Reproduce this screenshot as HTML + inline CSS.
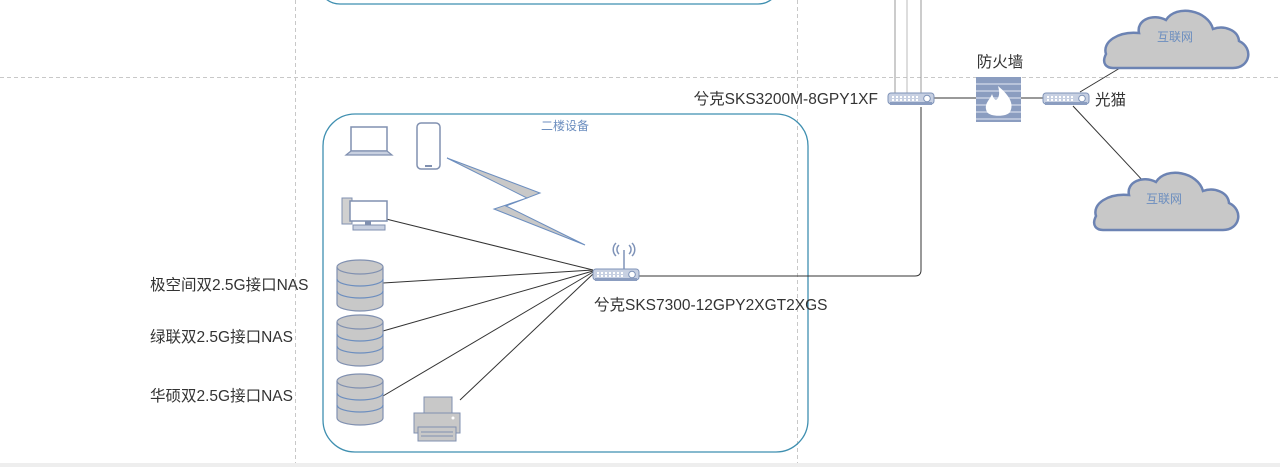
<!DOCTYPE html>
<html><head><meta charset="utf-8"><style>
html,body{margin:0;padding:0;background:#fff;}
svg{display:block;}
text{font-family:"Liberation Sans","Noto Sans CJK SC",sans-serif;}
</style></head><body>
<svg width="1280" height="467" viewBox="0 0 1280 467" xmlns="http://www.w3.org/2000/svg">
<defs>
<g id="sw">
  <rect x="0" y="0" width="46" height="11" rx="3" fill="#c7d0e2" stroke="#7f93b8" stroke-width="1"/>
  <rect x="2" y="9" width="42" height="3" fill="#8b9dc0"/>
  <g fill="#fff"><rect x="4" y="3" width="2" height="2"/><rect x="8" y="3" width="2" height="2"/><rect x="12" y="3" width="2" height="2"/><rect x="16" y="3" width="2" height="2"/><rect x="20" y="3" width="2" height="2"/><rect x="24" y="3" width="2" height="2"/><rect x="28" y="3" width="2" height="2"/>
  <rect x="4" y="6" width="2" height="2"/><rect x="8" y="6" width="2" height="2"/><rect x="12" y="6" width="2" height="2"/><rect x="16" y="6" width="2" height="2"/><rect x="20" y="6" width="2" height="2"/><rect x="24" y="6" width="2" height="2"/><rect x="28" y="6" width="2" height="2"/></g>
  <circle cx="39" cy="5.5" r="3.3" fill="#fff" stroke="#7f93b8"/>
</g>
<g id="db">
  <path d="M0 7 v37 a23 7 0 0 0 46 0 v-37" fill="#c8c8c8" stroke="#8090b0" stroke-width="1.2"/>
  <ellipse cx="23" cy="7" rx="23" ry="7" fill="#c8c8c8" stroke="#8090b0" stroke-width="1.2"/>
  <path d="M0 19 a23 7 0 0 0 46 0 M0 31 a23 7 0 0 0 46 0" fill="none" stroke="#6c8ebf" stroke-width="1.2"/>
</g>
<path id="cloud" d="M15 62 H135 C152 62 156 42 141 35 C140 24 126 19 115 23 C110 4 78 -2 68 14 C55 7 38 14 41 27 C20 25 4 36 8 48 C3 58 9 62 15 62 Z"/>
</defs>

<g stroke="#c8c8c8" stroke-dasharray="4,3" stroke-width="1">
  <line x1="0" y1="77.5" x2="1280" y2="77.5"/>
  <line x1="295.5" y1="0" x2="295.5" y2="467"/>
  <line x1="797.5" y1="0" x2="797.5" y2="467"/>
</g>
<rect x="0" y="463" width="1280" height="4" fill="#eeeeee"/>

<rect x="318" y="-60" width="462" height="64" rx="22" fill="none" stroke="#3f8fb0" stroke-width="1.3"/>
<rect x="323" y="114" width="485" height="338" rx="32" fill="none" stroke="#3f8fb0" stroke-width="1.3"/>
<text x="565" y="130" font-size="12" fill="#6c8ebf" text-anchor="middle">二楼设备</text>

<g stroke="#999" stroke-width="1" fill="none">
  <line x1="895" y1="0" x2="895" y2="93"/>
  <line x1="907" y1="0" x2="907" y2="93" stroke="#bbb"/>
  <line x1="921" y1="0" x2="921" y2="93"/>
</g>

<g stroke="#333" stroke-width="1" fill="none">
  <line x1="593" y1="270" x2="386" y2="219"/>
  <line x1="593" y1="270" x2="383" y2="283"/>
  <line x1="593" y1="271" x2="383" y2="331"/>
  <line x1="593" y1="272" x2="383" y2="396"/>
  <line x1="593" y1="274" x2="460" y2="400"/>
  <path d="M638 276 H915 Q921 276 921 270 V107"/>
  <line x1="934" y1="98" x2="976" y2="98"/>
  <line x1="1020" y1="98" x2="1044" y2="98"/>
  <line x1="1080" y1="92" x2="1120" y2="68"/>
  <line x1="1073" y1="106" x2="1145" y2="183"/>
</g>

<polygon points="447,158 540,193 506,206 585,245 494,209 527,198" fill="#c8c8c8" stroke="#6c8ebf" stroke-width="1"/>

<rect x="351" y="127" width="36" height="24" fill="#fff" stroke="#8090b0" stroke-width="1.5"/>
<path d="M346 155 L351 151 H387 L392 155 Z" fill="#c8d0e0" stroke="#8090b0" stroke-width="1.2"/>
<rect x="417" y="123" width="23" height="46" rx="4" fill="#fff" stroke="#8090b0" stroke-width="1.5"/>
<rect x="425" y="165" width="7" height="2" fill="#8090b0"/>
<rect x="342" y="198" width="10" height="26" fill="#d0d0d0" stroke="#8090b0"/>
<rect x="350" y="201" width="37" height="20" fill="#fff" stroke="#8090b0" stroke-width="1.5"/>
<rect x="365" y="221" width="6" height="4" fill="#8090b0"/>
<rect x="353" y="225" width="32" height="5" fill="#c8d0e0" stroke="#8090b0"/>

<use href="#db" x="337" y="260"/>
<use href="#db" x="337" y="315"/>
<use href="#db" x="337" y="374"/>

<rect x="424" y="397" width="28" height="16" fill="#c8c8c8" stroke="#8090b0"/>
<rect x="414" y="413" width="46" height="20" fill="#c8c8c8" stroke="#8090b0"/>
<rect x="418" y="427" width="38" height="14" fill="#c8c8c8" stroke="#8090b0"/>
<line x1="421" y1="432" x2="453" y2="432" stroke="#8090b0"/>
<line x1="421" y1="436" x2="453" y2="436" stroke="#8090b0"/>
<circle cx="453" cy="418" r="1.5" fill="#fff"/>

<g stroke="#7f93b8" stroke-width="1.5" fill="none">
  <line x1="624" y1="250" x2="624" y2="269"/>
  <path d="M619 245 a6 6 0 0 0 0 9 M629 245 a6 6 0 0 1 0 9 M616 243 a9 9 0 0 0 0 13 M632 243 a9 9 0 0 1 0 13"/>
</g>
<use href="#sw" x="593" y="269"/>
<use href="#sw" x="888" y="93"/>
<use href="#sw" x="1043" y="93"/>

<rect x="976" y="77" width="45" height="45" fill="#8b9dc0"/>
<g stroke="#c7d0e2" stroke-width="1.5">
  <line x1="976" y1="84" x2="1021" y2="84"/><line x1="976" y1="91" x2="1021" y2="91"/>
  <line x1="976" y1="98" x2="1021" y2="98"/><line x1="976" y1="105" x2="1021" y2="105"/>
  <line x1="976" y1="112" x2="1021" y2="112"/><line x1="976" y1="119" x2="1021" y2="119"/>
</g>
<path d="M998 86 C1010 96 1014 104 1010 112 C1007 117 990 117 987 112 C983 104 990 100 992 94 C994 100 996 101 998 98 C1000 94 999 90 998 86 Z" fill="#fff"/>

<use href="#cloud" x="1098" y="6" fill="#c8c8c8" stroke="#6c83b3" stroke-width="2.5"/>
<use href="#cloud" x="1088" y="168" fill="#c8c8c8" stroke="#6c83b3" stroke-width="2.5"/>
<text x="1175" y="41" font-size="12" fill="#6c8ebf" text-anchor="middle">互联网</text>
<text x="1164" y="203" font-size="12" fill="#6c8ebf" text-anchor="middle">互联网</text>

<g font-size="15.5" fill="#333">
  <text x="150" y="290">极空间双2.5G接口NAS</text>
  <text x="150" y="342">绿联双2.5G接口NAS</text>
  <text x="150" y="401">华硕双2.5G接口NAS</text>
  <text x="594" y="310">兮克SKS7300-12GPY2XGT2XGS</text>
  <text x="878" y="104" text-anchor="end">兮克SKS3200M-8GPY1XF</text>
  <text x="1000" y="67" text-anchor="middle">防火墙</text>
  <text x="1095" y="105">光猫</text>
</g>
</svg>
</body></html>
